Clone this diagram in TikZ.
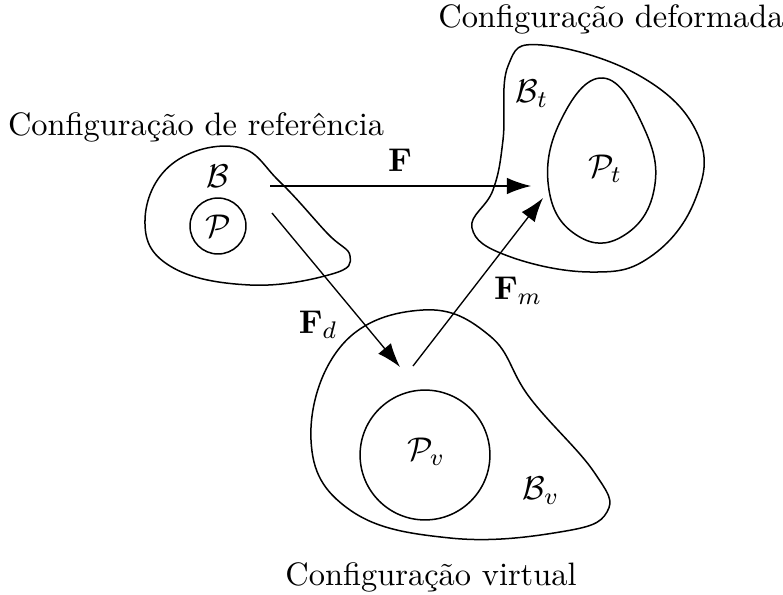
\documentclass[tikz,border=0pt]{standalone}
\usepackage{amsmath,amssymb}
\usepackage{tikz}
\usetikzlibrary{arrows.meta,positioning}
\tikzset{
  body-outline/.style={draw=black, line width=0.5pt},
  part-circle/.style={draw=black, circle, inner sep=0pt, line width=0.5pt},
  map-arrow/.style={-{Latex[length=8pt,width=5.5pt]}, line width=0.45pt},
  config-title/.style={inner sep=1pt},
  body-label/.style={inner sep=1pt}
}

\begin{document}
\begin{tikzpicture}[x=0.0117cm, y=-0.0117cm, font=\fontsize{10.8pt}{13pt}\selectfont]
  \useasboundingbox (0,0) rectangle (783,595);

  % Title labels for the three configurations
  \node[config-title] (tref) at (196,127) {Configuração de referência};
  \node[config-title] (tdef) at (611,19) {Configuração deformada};
  \node[config-title] (tvir) at (431,577) {Configuração virtual};

  % --- Reference body B ---
  \draw[body-outline] plot[smooth cycle, tension=0.7] coordinates
    {(237,147) (280,182) (327,233) (350,256) (332,274) (250,285) (170,266) (145,220) (172,164)};
  \node[part-circle, minimum size=0.655cm] (pref) at (218,226) {$\mathcal{P}$};
  \node[body-label] (bref) at (218,176) {$\mathcal{B}$};

  % --- Deformed body B_t ---
  \draw[body-outline] plot[smooth cycle, tension=0.7] coordinates
    {(542,45) (640,76) (698,135) (695,200) (650,257) (590,272) (508,256) (472,228) (493,190)
     (503,140) (508,66)};
  \draw[body-outline] plot[smooth cycle, tension=0.75] coordinates
    {(603,78) (644,128) (654,190) (623,236) (578,236) (549,190) (560,122)};
  \node[body-label] (bdef) at (532,94) {$\mathcal{B}_t$};
  \node[body-label] (pdef) at (605,169) {$\mathcal{P}_t$};

  % --- Virtual body B_v ---
  \draw[body-outline] plot[smooth cycle, tension=0.7] coordinates
    {(423,310) (490,336) (530,398) (594,472) (607,512) (560,532) (450,538) (350,510) (311,440)
     (342,345)};
  \node[part-circle, minimum size=1.52cm] (pvir) at (425,455) {};
  \node[body-label] (pvlab) at (426,452) {$\mathcal{P}_v$};
  \node[body-label] (bvir) at (541,491) {$\mathcal{B}_v$};

  % Arrow end points
  \coordinate (fstart) at (270,186);
  \coordinate (fend) at (531,186);
  \coordinate (fdstart) at (272,213);
  \coordinate (fdend) at (400,367);
  \coordinate (fmstart) at (413,366);
  \coordinate (fmend) at (543,198);

  % Mappings
  \draw[map-arrow] (fstart) -- (fend);
  \draw[map-arrow] (fdstart) -- (fdend);
  \draw[map-arrow] (fmstart) -- (fmend);
  \node[body-label] (flab) at (400,160) {$\mathbf{F}$};
  \node[body-label] (fdlab) at (318,325) {$\mathbf{F}_d$};
  \node[body-label] (fmlab) at (518,291) {$\mathbf{F}_m$};
\end{tikzpicture}
\end{document}
